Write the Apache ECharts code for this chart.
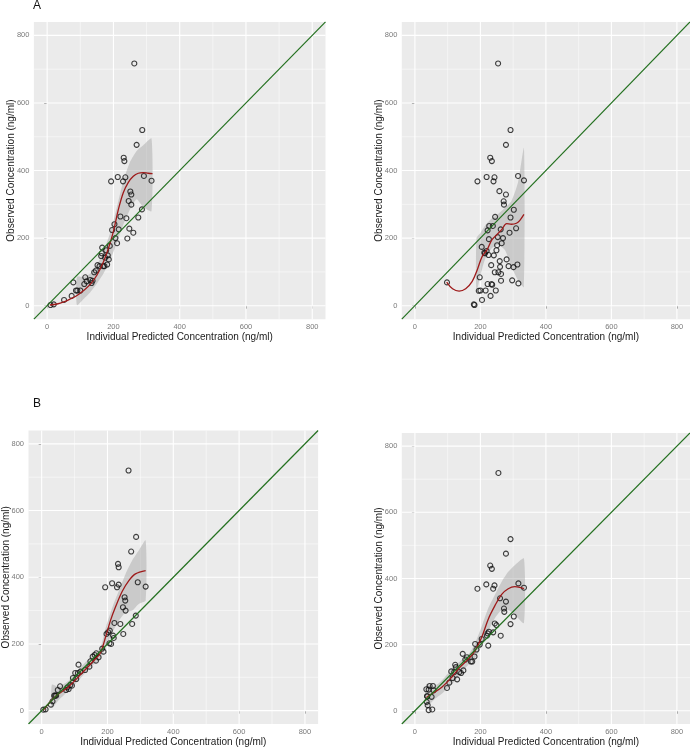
<!DOCTYPE html>
<html><head><meta charset="utf-8">
<script src="https://cdn.jsdelivr.net/npm/echarts@6/dist/echarts.min.js"></script>
<style>html,body{margin:0;padding:0;background:#fff}#c{width:690px;height:748px}</style>
</head><body><div id="c"></div>
<script>
// ---------- data ----------
const tickValues = [0, 200, 400, 600, 800];
const minorValues = [100, 300, 500, 700];
const xTitle = 'Individual Predicted Concentration (ng/ml)';
const yTitle = 'Observed Concentration (ng/ml)';
const panelLabels = ['A', 'B'];
const identityLine = [[-40, -40], [840, 840]];

// Panel A left: [predicted, observed]
const pointsA1 = [[10,2],[20,4],[51,17],[74,29],[79,69],[87,45],[91,45],[100,45],[112,64],[115,84],[119,72],[130,76],[134,67],[137,74],[142,99],[147,104],[152,120],[158,117],[163,147],[165,155],[166,172],[169,117],[173,117],[175,142],[178,164],[181,122],[183,149],[186,137],[189,177],[193,368],[196,224],[203,241],[206,200],[211,185],[213,381],[216,226],[221,264],[229,368],[231,438],[233,428],[236,380],[239,259],[242,199],[246,310],[248,228],[251,338],[254,329],[254,299],[260,216],[263,717],[270,476],[275,261],[287,520],[286,285],[292,384],[315,370]];
const smoothA1 = [[8,2],[30,5],[50,11],[70,20],[90,30],[110,45],[130,63],[150,90],[170,130],[185,170],[200,220],[215,285],[230,335],[245,365],[260,383],[275,392],[290,394],[305,392],[318,391]];
const bandXA1 = [90,110,130,150,170,190,210,230,250,270,290,315];
const bandLoA1 = [2,20,40,65,95,135,185,240,285,315,292,280];
const bandHiA1 = [85,85,95,120,160,215,290,370,425,458,475,495];

// Panel A right
const pointsA2 = [[98,69],[180,4],[182,2],[191,368],[198,84],[195,44],[200,45],[204,174],[205,17],[212,157],[214,155],[216,45],[219,381],[219,162],[222,64],[222,223],[226,197],[225,150],[227,236],[230,438],[233,120],[231,29],[235,428],[234,64],[236,62],[238,236],[240,368],[241,149],[243,380],[244,99],[245,263],[247,45],[249,164],[251,179],[253,203],[254,717],[255,99],[258,339],[259,132],[260,115],[262,226],[263,74],[263,94],[265,185],[269,200],[271,309],[272,299],[278,476],[278,329],[280,137],[286,117],[289,216],[292,261],[292,520],[297,75],[301,114],[302,284],[309,229],[313,122],[315,384],[316,66],[333,371]];
const smoothA2 = [[97,70],[115,50],[135,43],[155,50],[175,72],[190,105],[205,145],[220,165],[235,195],[250,210],[265,225],[280,243],[295,241],[310,244],[320,252],[333,270]];
const bandXA2 = [188,200,215,235,255,275,295,315,333];
const bandLoA2 = [40,90,140,170,180,165,115,75,55];
const bandHiA2 = [200,215,238,258,272,290,310,365,466];

// Panel B left
const pointsB1 = [[5,3],[12,4],[28,18],[33,28],[38,45],[41,45],[44,45],[49,62],[56,73],[74,62],[78,70],[82,65],[87,77],[92,75],[95,98],[102,113],[105,95],[110,113],[112,138],[118,117],[132,122],[145,132],[148,148],[155,162],[161,167],[165,150],[166,172],[173,160],[184,186],[188,177],[193,370],[197,230],[202,235],[207,240],[206,202],[211,200],[214,382],[217,225],[219,218],[221,263],[229,370],[232,440],[234,430],[234,378],[239,260],[247,310],[248,230],[252,340],[254,330],[255,300],[264,720],[272,477],[275,260],[287,521],[286,285],[292,385],[316,372]];
const smoothB1 = [[5,2],[41,42],[82,72],[122,112],[163,155],[178,172],[194,220],[209,270],[224,310],[245,358],[265,390],[285,410],[316,420]];
const bandXB1 = [31,50,80,110,140,165,180,195,215,235,255,275,295,316];
const bandLoB1 = [8,30,58,88,122,145,160,190,235,270,295,300,320,330];
const bandHiB1 = [78,72,88,122,152,172,192,250,310,360,410,450,480,510];

// Panel B right
const pointsB2 = [[35,65],[38,44],[36,27],[39,17],[42,2],[53,4],[42,64],[45,75],[55,75],[57,62],[51,42],[37,44],[98,69],[105,85],[111,119],[115,99],[120,117],[123,139],[125,132],[129,95],[136,117],[141,114],[146,172],[148,122],[154,155],[159,162],[171,149],[175,149],[182,164],[184,202],[188,185],[191,369],[198,200],[204,217],[218,382],[220,227],[222,234],[224,197],[226,239],[230,439],[235,429],[239,237],[239,369],[243,379],[244,264],[249,259],[255,719],[260,340],[262,227],[272,309],[273,299],[278,475],[278,330],[292,519],[292,262],[302,285],[316,385],[333,372]];
const smoothB2 = [[35,40],[53,52],[83,72],[113,102],[138,132],[164,157],[184,182],[204,222],[224,277],[244,317],[265,352],[285,369],[305,375],[320,373],[333,369]];
const bandXB2 = [35,60,83,113,138,164,184,204,224,244,265,285,305,333];
const bandLoB2 = [12,35,52,80,110,140,160,195,240,280,305,305,290,265];
const bandHiB2 = [80,75,92,128,150,170,205,255,310,350,390,420,440,460];

// ---------- chart ----------
const FONT = 'Liberation Sans, Arial, sans-serif';
const panels = [
  {pts: pointsA1, sm: smoothA1, bx: bandXA1, lo: bandLoA1, hi: bandHiA1},
  {pts: pointsA2, sm: smoothA2, bx: bandXA2, lo: bandLoA2, hi: bandHiA2},
  {pts: pointsB1, sm: smoothB1, bx: bandXB1, lo: bandLoB1, hi: bandHiB1},
  {pts: pointsB2, sm: smoothB2, bx: bandXB2, lo: bandLoB2, hi: bandHiB2}
];
const gridBoxes = [
  {left: 33.9, top: 21.9, width: 291.6, height: 297.3},
  {left: 401.8, top: 21.9, width: 293.5, height: 297.3},
  {left: 27.2, top: 430.5, width: 290.9, height: 296.6},
  {left: 401.8, top: 432.9, width: 293.5, height: 296.5}
];

const grid = [], xAxis = [], yAxis = [], series = [];
panels.forEach((p, i) => {
  grid.push(Object.assign({show: true, backgroundColor: '#EBEBEB', borderWidth: 0, containLabel: false}, gridBoxes[i]));
  const common = {
    gridIndex: i, type: 'value', min: -40, max: 840,
    axisLine: {show: false},
    splitLine: {show: false},
    axisTick: {show: true, customValues: tickValues, length: 3, lineStyle: {color: '#444', width: 0.8}},
    nameLocation: 'middle',
    nameMoveOverlap: false,
    nameTextStyle: {fontSize: 10, color: '#1a1a1a', fontFamily: FONT}
  };
  xAxis.push(Object.assign({}, common, {
    name: xTitle, nameGap: 13,
    axisLabel: {customValues: tickValues, fontSize: 7.5, color: '#7a7a7a', margin: 4, fontFamily: FONT}
  }));
  yAxis.push(Object.assign({}, common, {
    name: yTitle, nameGap: 17.5,
    axisLabel: {customValues: tickValues, fontSize: 7.5, color: '#7a7a7a', margin: 4.5, fontFamily: FONT}
  }));
  // background grid lines (major + minor) drawn through the axis scales
  series.push({
    type: 'custom', xAxisIndex: i, yAxisIndex: i, z: 1, silent: true, data: [[0, 0]],
    renderItem: (params, api) => {
      const children = [];
      const add = (v, w) => {
        const a = api.coord([v, -40]), b = api.coord([v, 840]);
        children.push({type: 'line', shape: {x1: a[0], y1: a[1], x2: b[0], y2: b[1]}, style: {stroke: '#ffffff', lineWidth: w}});
        const c = api.coord([-40, v]), d = api.coord([840, v]);
        children.push({type: 'line', shape: {x1: c[0], y1: c[1], x2: d[0], y2: d[1]}, style: {stroke: '#ffffff', lineWidth: w}});
      };
      minorValues.forEach(v => add(v, 0.5));
      tickValues.forEach(v => add(v, 1.1));
      return {type: 'group', children};
    }
  });
  series.push({
    type: 'custom', xAxisIndex: i, yAxisIndex: i, z: 2, silent: true, data: [[0, 0]],
    renderItem: (params, api) => {
      const pts = [];
      for (let k = 0; k < p.bx.length; k++) pts.push(api.coord([p.bx[k], p.hi[k]]));
      for (let k = p.bx.length - 1; k >= 0; k--) pts.push(api.coord([p.bx[k], p.lo[k]]));
      return {type: 'polygon', shape: {points: pts, smooth: 0.2}, style: {fill: 'rgba(153,153,153,0.4)'}};
    }
  });
  series.push({
    type: 'scatter', xAxisIndex: i, yAxisIndex: i, z: 3, data: p.pts, symbol: 'circle', symbolSize: 5,
    itemStyle: {color: 'rgba(0,0,0,0)', borderColor: '#111', borderWidth: 1.1}
  });
  series.push({
    type: 'line', xAxisIndex: i, yAxisIndex: i, z: 4, data: p.sm, smooth: 0.35, showSymbol: false,
    lineStyle: {color: '#9e1a1a', width: 1.3}
  });
  series.push({
    type: 'line', xAxisIndex: i, yAxisIndex: i, z: 5, data: identityLine, showSymbol: false,
    lineStyle: {color: '#23701f', width: 1.2}
  });
});

const chart = echarts.init(document.getElementById('c'), null, {renderer: 'canvas'});
chart.setOption({
  animation: false,
  backgroundColor: '#ffffff',
  grid, xAxis, yAxis, series,
  graphic: [
    {type: 'text', left: 33, top: 0, style: {text: panelLabels[0], fontSize: 12, fill: '#111', fontFamily: FONT}},
    {type: 'text', left: 33, top: 398, style: {text: panelLabels[1], fontSize: 12, fill: '#111', fontFamily: FONT}}
  ]
});
</script>
</body></html>
